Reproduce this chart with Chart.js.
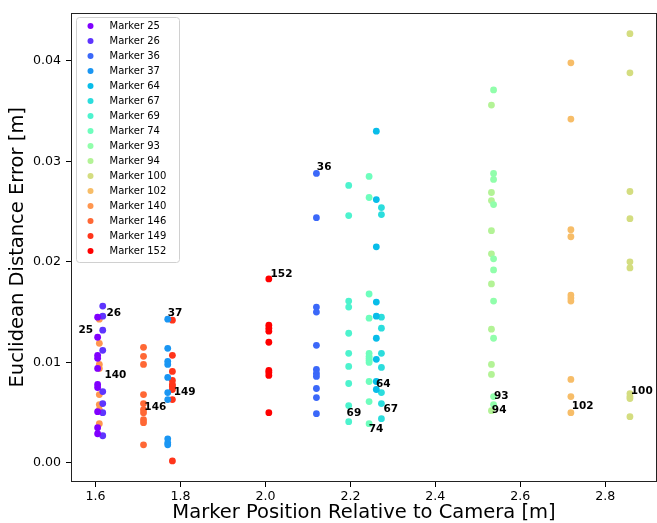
<!DOCTYPE html>
<html>
<head>
<meta charset="utf-8">
<script src="https://cdn.jsdelivr.net/npm/chart.js@4.4.1/dist/chart.umd.min.js"></script>
<style>
  html, body { margin: 0; padding: 0; background: #fff; }
  #wrap { width: 657px; height: 523px; }
</style>
</head>
<body>
<div id="wrap"><canvas id="myChart" width="657" height="523"></canvas></div>
<script>
// marker ids and the distance each one was placed at (m)
const markerIds = ["25", "26", "36", "37", "64", "67", "69", "74", "93", "94", "100", "102", "140", "146", "149", "152"];
const markerDist = [1.605, 1.617, 2.120, 1.770, 2.261, 2.273, 2.196, 2.244, 2.537, 2.532, 2.858, 2.719, 1.609, 1.713, 1.781, 2.008];

// euclidean error per marker (m)
const err25 = [0.0145, 0.0125, 0.0107, 0.0104, 0.0094, 0.0078, 0.0075, 0.0051, 0.0035, 0.0029];
const err26 = [0.0156, 0.0146, 0.0132, 0.0112, 0.0071, 0.0059, 0.0050, 0.0027];
const err36 = [0.0288, 0.0244, 0.0155, 0.0150, 0.0117, 0.0093, 0.0089, 0.0086, 0.0074, 0.0065, 0.0049];
const err37 = [0.0143, 0.0114, 0.0101, 0.0098, 0.0085, 0.0070, 0.0063, 0.0024, 0.0020, 0.0018];
const err64 = [0.0330, 0.0262, 0.0215, 0.0160, 0.0146, 0.0124, 0.0103, 0.0081, 0.0073];
const err67 = [0.0254, 0.0247, 0.0145, 0.0134, 0.0109, 0.0095, 0.0070, 0.0059, 0.0044];
const err69 = [0.0276, 0.0246, 0.0161, 0.0155, 0.0129, 0.0109, 0.0096, 0.0079, 0.0057, 0.0041];
const err74 = [0.0285, 0.0264, 0.0168, 0.0144, 0.0109, 0.0106, 0.0104, 0.0102, 0.0100, 0.0081, 0.0061, 0.0039];
const err93 = [0.0371, 0.0288, 0.0282, 0.0257, 0.0203, 0.0192, 0.0161, 0.0124, 0.0066, 0.0058];
const err94 = [0.0356, 0.0269, 0.0261, 0.0231, 0.0208, 0.0178, 0.0133, 0.0098, 0.0088, 0.0052];
const err100 = [0.0427, 0.0388, 0.0270, 0.0243, 0.0200, 0.0194, 0.0069, 0.0066, 0.0064, 0.0046];
const err102 = [0.0398, 0.0342, 0.0232, 0.0225, 0.0167, 0.0164, 0.0161, 0.0083, 0.0066, 0.0050];
const err140 = [0.0143, 0.0119, 0.0098, 0.0094, 0.0068, 0.0058, 0.0053, 0.0039];
const err146 = [0.0115, 0.0106, 0.0098, 0.0068, 0.0059, 0.0053, 0.0050, 0.0043, 0.0040, 0.0018];
const err149 = [0.0142, 0.0107, 0.0091, 0.0082, 0.0078, 0.0076, 0.0073, 0.0063, 0.0002];
const err152 = [0.0183, 0.0137, 0.0134, 0.0131, 0.0120, 0.0092, 0.0090, 0.0087, 0.0050];
const errors = [err25, err26, err36, err37, err64, err67, err69, err74, err93, err94, err100, err102, err140, err146, err149, err152];

// where the id text sits (data coords, left/middle of text)
const labelX = [1.560, 1.626, 2.121, 1.770, 2.260, 2.278, 2.191, 2.243, 2.538, 2.533, 2.860, 2.721, 1.621, 1.715, 1.784, 2.012];
const labelY = [0.0132, 0.0149, 0.0294, 0.0149, 0.0078, 0.0053, 0.0049, 0.0033, 0.0066, 0.0052, 0.0071, 0.0056, 0.0087, 0.0055, 0.0070, 0.0188];

const xTicks = [1.6, 1.8, 2.0, 2.2, 2.4, 2.6, 2.8];
const yTicks = [0.00, 0.01, 0.02, 0.03, 0.04];

// rainbow colormap, 16 steps
const colors = ["#8000ff", "#5e35fe", "#3b68f9", "#1a96f3", "#08bde9", "#2bdddd", "#4df3ce", "#6efebd", "#91feab", "#b3f396", "#d4dd80", "#f7bd68", "#ff964f", "#ff6835", "#ff351b", "#ff0000"];

const FONT = "DejaVu Sans";

const datasets = markerIds.map((id, i) => ({
  label: "Marker " + id,
  data: errors[i].map((e) => ({ x: markerDist[i], y: e })),
  backgroundColor: colors[i],
  borderWidth: 0,
  pointRadius: 3.4,
}));

const framePlugin = {
  id: "frame",
  afterDatasetsDraw(chart) {
    const { ctx, chartArea: a } = chart;
    ctx.save();
    ctx.strokeStyle = "#222";
    ctx.lineWidth = 1;
    ctx.strokeRect(Math.round(a.left) + 0.5, Math.round(a.top) + 0.5,
      Math.round(a.right - a.left) - 1, Math.round(a.bottom - a.top) - 1);
    ctx.restore();
  },
};

const idLabels = {
  id: "idLabels",
  afterDatasetsDraw(chart) {
    const { ctx, scales } = chart;
    ctx.save();
    ctx.font = "bold 10.5px " + FONT;
    ctx.fillStyle = "#000";
    ctx.textBaseline = "middle";
    ctx.textAlign = "left";
    markerIds.forEach((id, i) => {
      ctx.fillText(id, scales.x.getPixelForValue(labelX[i]), scales.y.getPixelForValue(labelY[i]));
    });
    ctx.restore();
  },
};

const boxLegend = {
  id: "boxLegend",
  afterDraw(chart) {
    const { ctx } = chart;
    const x0 = 76.5, y0 = 17.5, w = 103, rowH = 15;
    const h = rowH * markerIds.length + 5;
    ctx.save();
    ctx.beginPath();
    ctx.roundRect(x0, y0, w, h, 3);
    ctx.fillStyle = "rgba(255,255,255,0.8)";
    ctx.fill();
    ctx.strokeStyle = "#d0d0d0";
    ctx.lineWidth = 1;
    ctx.stroke();
    ctx.font = "10px " + FONT;
    ctx.textBaseline = "middle";
    ctx.textAlign = "left";
    chart.data.datasets.forEach((ds, i) => {
      const cy = y0 + 8.5 + i * rowH;
      ctx.beginPath();
      ctx.arc(x0 + 14, cy, 3, 0, Math.PI * 2);
      ctx.fillStyle = ds.backgroundColor;
      ctx.fill();
      ctx.fillStyle = "#000";
      ctx.fillText(ds.label, x0 + 33, cy);
    });
    ctx.restore();
  },
};

const divChart = document.getElementById("myChart");

const myChart = new Chart(divChart, {
  type: "scatter",
  data: { datasets: datasets },
  options: {
    responsive: false,
    animation: false,
    devicePixelRatio: 1,
    layout: { autoPadding: false, padding: { top: 12, right: 0, left: 0, bottom: 0 } },
    plugins: {
      legend: { display: false },
      tooltip: { enabled: false },
    },
    scales: {
      x: {
        type: "linear",
        min: 1.5423,
        max: 2.9217,
        afterBuildTicks: (s) => { s.ticks = xTicks.map((v) => ({ value: v })); },
        afterFit: (s) => { s.height = 41; },
        ticks: {
          callback: (v) => Number(v).toFixed(1),
          color: "#000",
          font: { family: FONT, size: 12.6 },
          padding: 2,
          maxRotation: 0,
        },
        grid: { drawOnChartArea: false, tickLength: 5, color: "#000" },
        border: { display: false },
        title: {
          display: true,
          text: "Marker Position Relative to Camera [m]",
          color: "#000",
          font: { family: FONT, size: 19.5, lineHeight: 1 },
          padding: { top: 0, bottom: 0 },
        },
      },
      y: {
        type: "linear",
        min: -0.0019,
        max: 0.0448,
        afterBuildTicks: (s) => { s.ticks = yTicks.map((v) => ({ value: v })); },
        afterFit: (s) => { s.width = 71; },
        ticks: {
          callback: (v) => Number(v).toFixed(2),
          color: "#000",
          font: { family: FONT, size: 12.6 },
          padding: 5,
        },
        grid: { drawOnChartArea: false, tickLength: 5, color: "#000" },
        border: { display: false },
        title: {
          display: true,
          text: "Euclidean Distance Error [m]",
          color: "#000",
          font: { family: FONT, size: 19.5, lineHeight: 1 },
          padding: { top: 8, bottom: 0 },
        },
      },
    },
  },
  plugins: [framePlugin, idLabels, boxLegend],
});
</script>
</body>
</html>
